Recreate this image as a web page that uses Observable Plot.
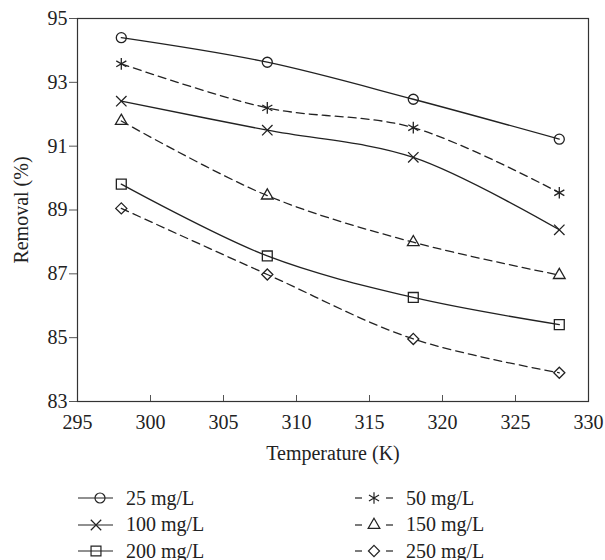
<!DOCTYPE html>
<html>
<head>
<meta charset="utf-8">
<script src="https://cdn.jsdelivr.net/npm/d3@7"></script>
<script src="https://cdn.jsdelivr.net/npm/@observablehq/plot@0.6"></script>
<style>
  html, body { margin: 0; padding: 0; background: #fff; }
  body { width: 605px; height: 560px; overflow: hidden; font-family: "Liberation Serif", "DejaVu Serif", serif; color: #222; }
  #chart svg { display: block; }
  #legend { position: relative; height: 90px; }
  .item { position: absolute; height: 27px; font-size: 20px; line-height: 27px; white-space: nowrap; }
  .item svg { position: absolute; top: 5.5px; left: 0; }
  .item span { position: absolute; top: 0; }
</style>
</head>
<body>
<div id="chart"></div>
<div id="legend"></div>
<script>
const temps = [298, 308, 318, 328];
const series = ["25 mg/L", "50 mg/L", "100 mg/L", "150 mg/L", "200 mg/L", "250 mg/L"];
const c25  = [94.40, 93.63, 92.47, 91.22];
const c50  = [93.58, 92.20, 91.58, 89.54];
const c100 = [92.41, 91.50, 90.65, 88.38];
const c150 = [91.79, 89.45, 87.99, 86.96];
const c200 = [89.81, 87.56, 86.26, 85.41];
const c250 = [89.05, 86.98, 84.96, 83.90];
const xTicks = [295, 300, 305, 310, 315, 320, 325, 330];
const yTicks = [83, 85, 87, 89, 91, 93, 95];

const values = [c25, c50, c100, c150, c200, c250];
const symbols = ["circle", "asterisk", "times", "triangle2", "square2", "diamond2"];
const radii = [5, 5.5, 4.8, 5.6, 6.3, 5];
const dashed = [false, true, false, true, false, true];
const ink = "#222";

const marks = [];
series.forEach((name, i) => {
  const data = temps.map((t, j) => ({t, v: values[i][j], name}));
  marks.push(Plot.line(data, {x: "t", y: "v", curve: "catmull-rom", stroke: ink, strokeWidth: 1.3,
    strokeDasharray: dashed[i] ? "8,5" : null}));
  marks.push(Plot.dot(data, {x: "t", y: "v", symbol: () => symbols[i], r: radii[i], stroke: ink, strokeWidth: 1.3, fill: "none"}));
});

const chart = Plot.plot({
  width: 605,
  height: 470,
  marginLeft: 77,
  marginRight: 17,
  marginTop: 18,
  marginBottom: 69,
  style: {fontFamily: "Liberation Serif, DejaVu Serif, serif", fontSize: "20px", color: ink, background: "#fff"},
  x: {domain: [295, 330], ticks: xTicks},
  y: {domain: [83, 95], ticks: yTicks},
  symbol: {type: "identity"},
  marks: [
    Plot.axisY({ticks: yTicks, tickSize: 8, tickPadding: 2, stroke: "#555", label: "Removal (%)", labelArrow: "none", labelAnchor: "center", labelOffset: 64, fontSize: 20}),
    Plot.axisX({ticks: xTicks, tickSize: -6, text: null, stroke: "#555", label: null}),
    Plot.axisX({ticks: xTicks, tickSize: 0, tickPadding: 13, label: "Temperature (K)", labelArrow: "none", labelAnchor: "center", labelOffset: 58, fontSize: 20}),
    Plot.frame({stroke: "#333", strokeWidth: 1.2}),
    ...marks
  ]
});
document.getElementById("chart").appendChild(chart);

// legend
const legend = document.getElementById("legend");
const colX = [78, 355];
const textX = [48, 51];
const symMap = {circle: d3.symbolCircle, asterisk: d3.symbolAsterisk, times: d3.symbolTimes, triangle2: d3.symbolTriangle2, square2: d3.symbolSquare2, diamond2: d3.symbolDiamond2};
const ns = "http://www.w3.org/2000/svg";
series.forEach((name, i) => {
  const col = i % 2, row = Math.floor(i / 2);
  const div = document.createElement("div");
  div.className = "item";
  div.style.left = colX[col] + "px";
  div.style.top = (14.5 + row * 26.5) + "px";
  const svg = document.createElementNS(ns, "svg");
  svg.setAttribute("width", 40); svg.setAttribute("height", 16);
  const cx = dashed[i] ? 19 : (symbols[i] === "circle" ? 22 : 18);
  if (dashed[i]) {
    [[0, 7], [31, 38]].forEach(([a, b]) => {
      const l = document.createElementNS(ns, "line");
      l.setAttribute("x1", a); l.setAttribute("x2", b); l.setAttribute("y1", 8); l.setAttribute("y2", 8);
      l.setAttribute("stroke", ink); l.setAttribute("stroke-width", 1.2);
      svg.appendChild(l);
    });
  } else {
    const l = document.createElementNS(ns, "line");
    l.setAttribute("x1", 0); l.setAttribute("x2", 35); l.setAttribute("y1", 8); l.setAttribute("y2", 8);
    l.setAttribute("stroke", ink); l.setAttribute("stroke-width", 1.2);
    svg.appendChild(l);
  }
  const p = document.createElementNS(ns, "path");
  p.setAttribute("d", d3.symbol(symMap[symbols[i]], Math.PI * radii[i] * radii[i])());
  p.setAttribute("transform", `translate(${cx},8)`);
  p.setAttribute("fill", dashed[i] ? "#fff" : "none");
  p.setAttribute("stroke", ink); p.setAttribute("stroke-width", 1.2);
  svg.appendChild(p);
  div.appendChild(svg);
  const span = document.createElement("span");
  span.style.left = textX[col] + "px";
  span.textContent = name;
  div.appendChild(span);
  legend.appendChild(div);
});
</script>
</body>
</html>
